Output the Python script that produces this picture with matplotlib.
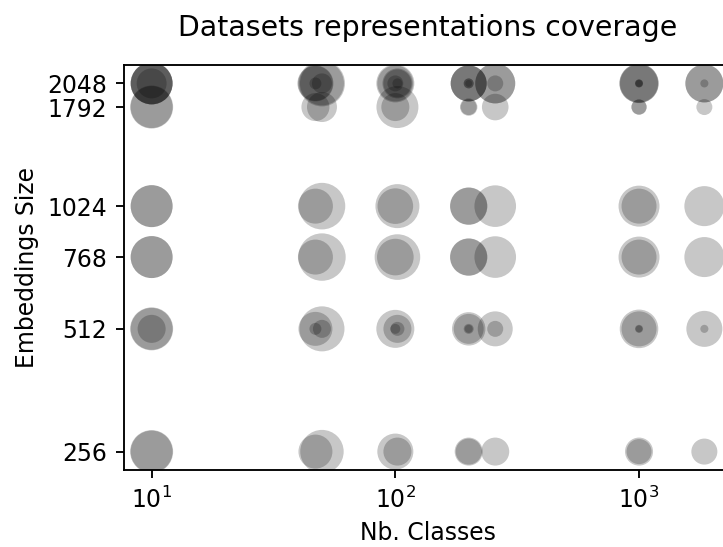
import matplotlib
matplotlib.use('Agg')
import matplotlib.pyplot as plt

# 数据集类别数 (x) 与模型嵌入维度 (y)
nb_classes = [10, 10, 47, 50, 100, 102, 200, 200, 257, 1000, 1000, 1854]
emb_dims = [2048, 2048, 2048, 1792, 1024, 768, 512, 512, 256]

# 每个数据集在每个模型上的气泡面积 (pt^2)，按 emb_dims 顺序
bubble_sizes = [
    [406, 406, 207, 406, 406, 406, 406, 181, 406],   # 10
    [406, 400, 0, 426, 406, 406, 426, 0, 426],       # 10
    [299, 282, 33, 181, 282, 282, 266, 33, 266],     # 47
    [488, 446, 92, 207, 500, 518, 467, 75, 434],     # 50
    [333, 299, 59, 181, 292, 309, 333, 23, 299],     # 100
    [207, 181, 23, 406, 446, 479, 181, 45, 181],     # 102
    [299, 299, 23, 70, 322, 322, 257, 23, 181],      # 200
    [299, 23, 11, 59, 315, 315, 207, 15, 156],       # 200
    [369, 369, 59, 163, 399, 399, 282, 59, 181],     # 257
    [358, 350, 15, 55, 387, 387, 343, 15, 181],      # 1000
    [333, 15, 11, 52, 282, 282, 282, 11, 144],       # 1000
    [333, 333, 15, 59, 369, 369, 299, 15, 156],      # 1854
]

fig = plt.figure(figsize=(723 / 150, 547 / 150), dpi=150)
ax = fig.add_axes([124 / 723, 77 / 547, 608 / 723, 405 / 547])

for n, sizes in zip(nb_classes, bubble_sizes):
    ax.scatter([n] * len(emb_dims), emb_dims, s=sizes, color='black',
               alpha=0.22, linewidths=0)

ax.set_xscale('log')
ax.set_yscale('log')
ytick_vals = sorted(set(emb_dims))
ax.set_yticks(ytick_vals)
ax.set_yticklabels([str(v) for v in ytick_vals])
ax.minorticks_off()
ax.tick_params(labelsize=11.3, width=0.9, length=4, pad=4)
for sp in ax.spines.values():
    sp.set_linewidth(0.9)

ax.set_xlabel('Nb. Classes', fontsize=11.3, labelpad=4)
ax.set_ylabel('Embeddings Size', fontsize=11.3, labelpad=4)
ax.set_title('Datasets representations coverage', fontsize=13.6, pad=14)

fig.savefig('out.png', dpi=150, facecolor='white')
